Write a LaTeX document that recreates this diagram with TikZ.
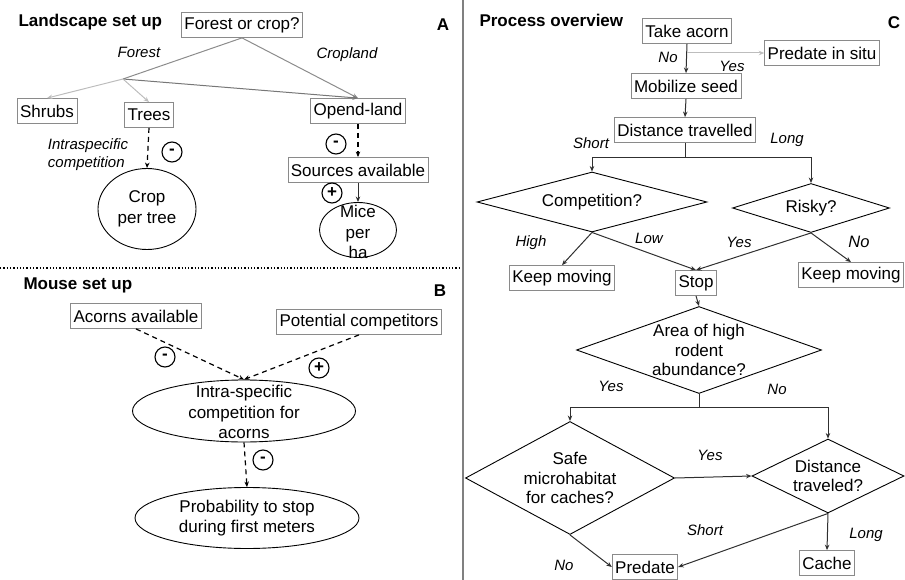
\documentclass[tikz,border=0pt]{standalone}
\usepackage{fontspec}
\setmainfont{Liberation Sans}
\usetikzlibrary{shapes.geometric,arrows.meta}
\definecolor{boxgray}{HTML}{8A8A8A}
\definecolor{lineA}{HTML}{8C8C8C}
\definecolor{lineB}{HTML}{777777}
\definecolor{lineC}{HTML}{BDBDBD}
\definecolor{ink}{HTML}{303030}
\begin{document}
\begin{tikzpicture}[x=1pt,y=-1pt,
  box/.style={draw=boxgray, line width=0.8pt, font=\fontsize{17}{20}\selectfont, inner xsep=3pt, inner ysep=2pt, minimum height=25pt},
  ell/.style={draw=black, ellipse, line width=0.9pt, inner sep=0pt},
  dia/.style={draw=black, diamond, line width=0.9pt, inner sep=0pt, align=center, font=\fontsize{17}{19.5}\selectfont},
  txt/.style={font=\fontsize{17}{20.5}\selectfont, align=center},
  lbl/.style={font=\fontsize{15}{18}\selectfont\itshape, align=left},
  head/.style={font=\fontsize{17}{20}\selectfont\bfseries, anchor=west},
  sign/.style={draw=black, circle, line width=1.1pt, minimum size=20pt, inner sep=0pt, font=\fontsize{17}{17}\selectfont\bfseries},
  arr/.style={-{Stealth[length=5.5pt,width=4.5pt]}},
  conn/.style={draw=ink, line width=1pt, arr},
  dsh/.style={draw=black, line width=1.2pt, dash pattern=on 5pt off 4pt, arr}]
\useasboundingbox (0,0) rectangle (905,580);

% dividers
\draw[line width=1.3pt, dotted] (0,268) -- (462,268);
\draw[line width=1.3pt, draw=gray] (463,0) -- (463,580);

% ---------------- Panel A
\node[head] (hA) at (15,22) {Landscape set up};
\node[font=\fontsize{17}{20}\selectfont\bfseries] (lA) at (443,25) {A};
\node[box] (fc) at (242,25) {Forest or crop?};
\node[box] (shrubs) at (47,111) {Shrubs};
\node[box] (trees) at (149,115) {Trees};
\node[box] (open) at (358,111) {Opend-land};
\node[box] (src) at (358,170) {Sources available};
\node[ell, minimum width=98pt, minimum height=81pt] (crop) at (147,209) {};
\node[txt] (croptxt) at (crop.center) {Crop\\per tree};
\node[ell, minimum width=77pt, minimum height=55pt] (mice) at (358,230) {};
\node[txt] (micetxt) at (358,232) {Mice\\per\\ha};
\coordinate (br) at (123,79);
\draw[draw=lineA, line width=1pt] (fc.south) -- (br);
\draw[draw=lineA, line width=1pt, arr] (fc.south) -- (open.north);
\draw[draw=lineB, line width=1pt, arr] (br) -- (open.north);
\draw[draw=lineC, line width=1pt, arr] (br) -- (shrubs.north);
\draw[draw=lineC, line width=1pt, arr] (br) -- (trees.north);
\node[lbl] (lforest) at (139,52) {Forest};
\node[lbl] (lcrop) at (347,55) {Cropland};
\draw[dsh] (trees.south) -- (crop.north);
\node[lbl] (lintra) at (88,155) {Intraspecific\\competition};
\node[sign] (s1) at (172,152) {-};
\draw[dsh] (open.south) -- (src.north);
\node[sign] (s2) at (336,144) {-};
\draw[conn] (src.south) -- (mice.north);
\node[sign] (s3) at (332,193) {+};

% ---------------- Panel B
\node[head] (hB) at (20,285) {Mouse set up};
\node[font=\fontsize{17}{20}\selectfont\bfseries] (lB) at (440,291) {B};
\node[box] (acorns) at (136,316) {Acorns available};
\node[box] (pcomp) at (359,322) {Potential competitors};
\node[ell, minimum width=223pt, minimum height=62pt] (intra) at (244,411) {};
\node[txt] (intratxt) at (244,412) {Intra-specific\\competition for\\acorns};
\node[ell, minimum width=224pt, minimum height=61pt] (prob) at (247,518) {};
\node[txt] (probtxt) at (247,518) {Probability to stop\\during first meters};
\draw[dsh] (acorns.south) -- (intra.north);
\draw[dsh] (pcomp.south) -- (intra.north);
\draw[dsh] (intra.south) -- (prob.north);
\node[sign] (s4) at (165,357) {-};
\node[sign] (s5) at (319,368) {+};
\node[sign] (s6) at (263,460) {-};

% ---------------- Panel C
\node[head] (hC) at (476,20) {Process overview};
\node[font=\fontsize{17}{20}\selectfont\bfseries] (lC) at (894,23) {C};
\node[box] (take) at (687,31) {Take acorn};
\node[box] (situ) at (822,53) {Predate in situ};
\node[box] (mob) at (686,86) {Mobilize seed};
\node[box] (dist) at (685,130) {Distance travelled};
\node[dia, aspect=3.8, minimum width=230pt, minimum height=60pt] (comp) at (592,202) {Competition?};
\node[dia, aspect=3.2, minimum width=157pt, minimum height=49pt] (risky) at (811,208) {Risky?};
\node[box] (keepL) at (562,278) {Keep moving};
\node[box] (stop) at (696,283) {Stop};
\node[box] (keepR) at (851,275) {Keep moving};
\node[dia, aspect=2.8, minimum width=245pt, minimum height=87pt] (area) at (699,350) {Area of high\\rodent\\abundance?};
\node[dia, aspect=1.85, minimum width=209pt, minimum height=113pt] (safe) at (570,478) {Safe\\microhabitat\\for caches?};
\node[dia, aspect=2.05, minimum width=152pt, minimum height=74pt] (dt) at (828,476) {Distance\\traveled?};
\node[box] (predate) at (645,567) {Predate};
\node[box] (cache) at (827,563) {Cache};

\draw[conn] (take.south) -- (mob.north);
\coordinate (tk) at (take.south |- situ.west);
\draw[draw=lineC, line width=1pt, arr] (tk) -- (situ.west);
\draw[conn] (mob.south) -- (dist.north);
\coordinate (dj) at (685,158);
\draw[conn] (dist.south) -- (dj) -| (comp.north);
\draw[conn] (dj) -| (risky.north);
\draw[conn] (comp.south) -- (keepL.north);
\draw[conn] (comp.south) -- (stop.north);
\draw[conn] (risky.south) -- (stop.north);
\draw[conn] (risky.south) -- (keepR.north);
\draw[conn] (stop.south) -- (area.north);
\coordinate (aj) at (699,407);
\draw[conn] (area.south) -- (aj) -| (safe.north);
\draw[conn] (aj) -| (dt.north);
\draw[conn] (safe.east) -- (dt.west);
\draw[conn] (safe.south) -- (predate.west);
\draw[conn] (dt.south) -- (predate.east);
\draw[conn] (dt.south) -- (cache.north);

\node[lbl] (c1) at (668,57) {No};
\node[lbl] (c2) at (732,66) {Yes};
\node[lbl] (c3) at (591,143) {Short};
\node[lbl] (c4) at (787,140) {Long};
\node[lbl] (c5) at (531,243) {High};
\node[lbl] (c6) at (649,238) {Low};
\node[lbl] (c7) at (739,242) {Yes};
\node[lbl, font=\fontsize{16.5}{18}\selectfont\itshape] (c8) at (859,242) {No};
\node[lbl] (c9) at (611,386) {Yes};
\node[lbl] (c10) at (777,389) {No};
\node[lbl] (c11) at (710,455) {Yes};
\node[lbl] (c12) at (705,530) {Short};
\node[lbl] (c13) at (866,535) {Long};
\node[lbl] (c14) at (564,565) {No};
\end{tikzpicture}
\end{document}
